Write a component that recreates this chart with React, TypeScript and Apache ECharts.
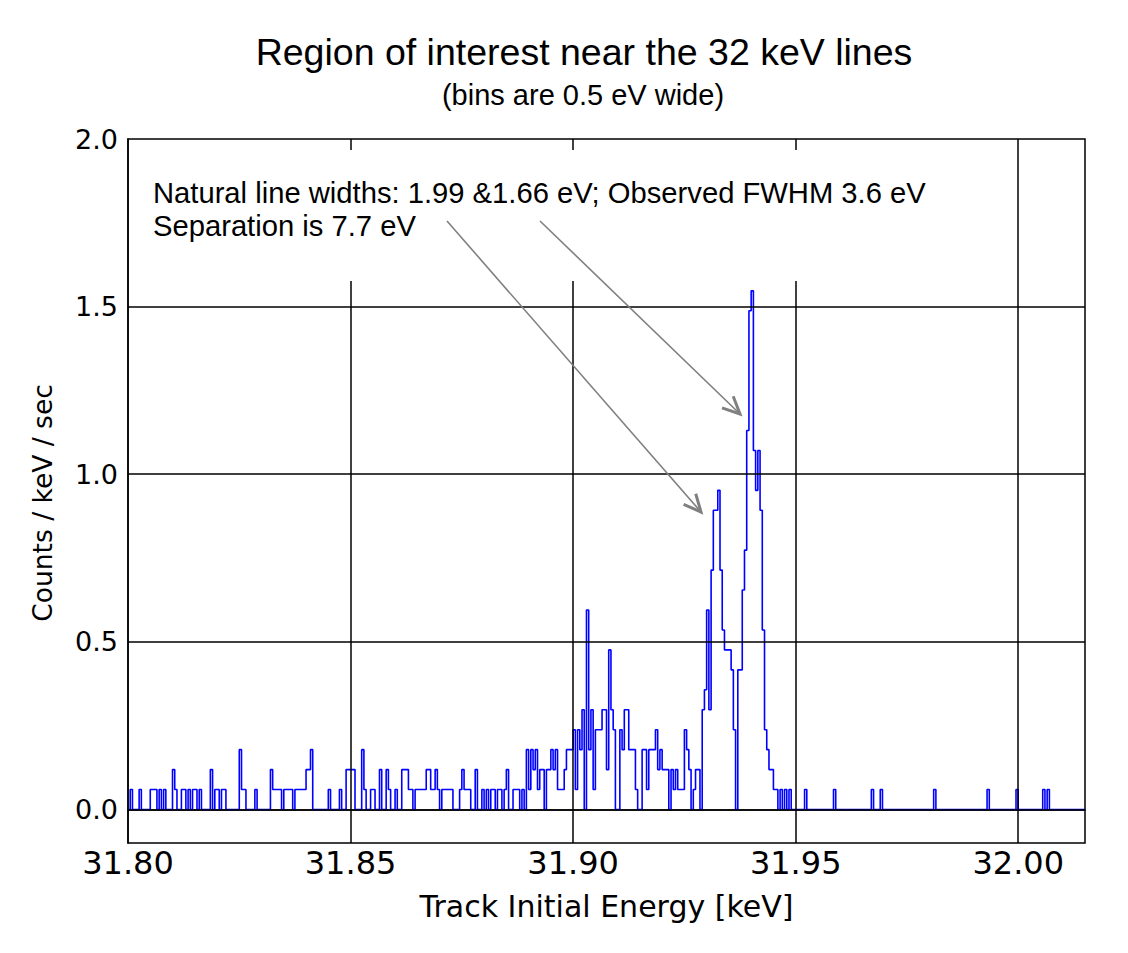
import React, { useEffect, useRef } from "react";
import * as echarts from "echarts";

// ---------- data ----------
const X_MIN = 31.8;
const X_MAX = 32.015;
const Y_MIN = -0.1;
const Y_MAX = 2.0;
const BIN_WIDTH = 0.0005; // keV (0.5 eV)
const RATE_PER_COUNT = 0.0595; // counts / keV / sec for one count in a bin

// counts per 0.5 eV bin, starting at 31.800 keV
const countsA = [
  0, 1, 0, 0, 0, 1, 0, 0, 0, 0, 1, 1, 1, 0, 1, 0, 1, 0, 0, 0,
  2, 1, 0, 0, 1, 1, 0, 1, 0, 1, 1, 0, 1, 0, 0, 0, 0, 2, 0, 1,
  1, 0, 1, 1, 0, 0, 0, 0, 0, 0, 3, 1, 1, 0, 0, 0, 0, 1, 0, 0,
  0, 0, 0, 0, 2, 1, 1, 1, 1, 0, 1, 1,
];
const countsB = [
  1, 1, 0, 1, 1, 1, 1, 1, 2, 2, 3, 0, 0, 0, 0, 0, 0, 0, 1, 0,
  0, 0, 0, 1, 0, 0, 2, 2, 2, 2, 0, 0, 0, 3, 1, 0, 0, 1, 1, 0,
  0, 2, 0, 0, 2, 1, 0, 0, 1, 0, 0, 2, 2, 2, 1, 1, 0, 1, 1, 1,
  1, 1, 2, 2, 1, 1, 2, 1, 0, 1, 1, 1,
];
const countsC = [
  1, 1, 0, 0, 0, 1, 2, 1, 1, 1, 0, 0, 2, 0, 0, 1, 0, 1, 0, 1,
  1, 0, 1, 1, 0, 1, 2, 0, 0, 1, 1, 1, 0, 1, 0, 3, 1, 3, 2, 3,
  1, 2, 2, 0, 2, 2, 3, 2, 3, 1, 1, 1, 2, 3, 3, 3,
];
const countsD = [
  4, 1, 4, 3, 5, 0, 10, 3, 5, 1, 4, 4, 4, 5, 5, 2, 8, 5, 4, 0,
  0, 4, 3, 5, 5, 3, 3, 3, 1, 0, 0, 3, 3, 1, 3, 3, 3, 4, 2, 3,
  2, 2, 2, 0,
];
const countsE = [
  2, 1, 2, 1, 1, 1, 4, 3, 2, 0, 1, 2, 2, 0, 5, 6, 10, 5, 12, 15,
  15, 16, 12, 9, 8, 8, 8, 7, 4, 0, 7, 7, 11, 13, 19, 25, 26, 18, 16, 18,
  15, 9, 4, 3, 2, 2, 1, 1, 0, 1, 0, 1, 0, 1,
];
// sparse tail beyond the peaks: [bin index, counts]
const tailHits = [
  [304, 1], [317, 1], [334, 1], [338, 1], [362, 1], [386, 1], [399, 1], [411, 1], [413, 1],
];
const N_BINS = 430;

const X_TICKS = [31.8, 31.85, 31.9, 31.95, 32.0];
const Y_TICKS = [0, 0.5, 1.0, 1.5, 2.0];
const X_GRID = [31.85, 31.9, 31.95, 32.0];
const Y_GRID = [0, 0.5, 1.0, 1.5];

const TITLE = "Region of interest near the 32 keV lines";
const SUBTITLE = "(bins are 0.5 eV wide)";
const NOTE_1 = "Natural line widths: 1.99 &1.66 eV; Observed FWHM 3.6 eV";
const NOTE_2 = "Separation is 7.7 eV";
const X_NAME = "Track Initial Energy [keV]";
const Y_NAME = "Counts / keV / sec";

// ---------- helpers ----------
function buildCounts(): number[] {
  const dense = [...countsA, ...countsB, ...countsC, ...countsD, ...countsE];
  const all = new Array(N_BINS).fill(0);
  dense.forEach((c, i) => (all[i] = c));
  tailHits.forEach(([k, c]) => (all[k] = c));
  return all;
}

function buildStepData(): number[][] {
  const counts = buildCounts();
  const pts: number[][] = [];
  counts.forEach((c, k) => {
    pts.push([+(X_MIN + k * BIN_WIDTH).toFixed(5), +(c * RATE_PER_COUNT).toFixed(5)]);
  });
  const last = counts[counts.length - 1] * RATE_PER_COUNT;
  pts.push([+(X_MIN + counts.length * BIN_WIDTH).toFixed(5), last]);
  return pts;
}

function arrow(x1: number, y1: number, x2: number, y2: number) {
  const ang = Math.atan2(y2 - y1, x2 - x1) + Math.PI;
  const L = 19;
  const spread = (25 * Math.PI) / 180;
  const w1 = [x2 + L * Math.cos(ang + spread), y2 + L * Math.sin(ang + spread)];
  const w2 = [x2 + L * Math.cos(ang - spread), y2 + L * Math.sin(ang - spread)];
  const color = "#808080";
  return [
    {
      type: "line",
      z: 120,
      shape: { x1, y1, x2, y2 },
      style: { stroke: color, lineWidth: 1.6 },
    },
    {
      type: "polyline",
      z: 121,
      shape: { points: [w1, [x2, y2], w2] },
      style: { stroke: color, lineWidth: 3, fill: null, lineJoin: "miter" },
    },
  ];
}

export default function App() {
  const ref = useRef<HTMLDivElement>(null);

  useEffect(() => {
    if (!ref.current) return;
    const chart = echarts.init(ref.current, undefined, { renderer: "svg" });

    const option: any = {
      animation: false,
      backgroundColor: "#fff",
      grid: {
        left: 128,
        top: 139,
        width: 957,
        height: 704,
        show: true,
        borderColor: "#000",
        borderWidth: 1.5,
        backgroundColor: "transparent",
      },
      xAxis: {
        type: "value",
        min: X_MIN,
        max: X_MAX,
        name: X_NAME,
        nameLocation: "middle",
        nameGap: 48,
        nameTextStyle: { fontFamily: "DejaVu Sans", fontSize: 30, color: "#000" },
        axisLine: { show: true, lineStyle: { color: "#000", width: 1.5 } },
        axisTick: { show: false },
        splitLine: { show: false },
        axisLabel: {
          fontFamily: "DejaVu Sans",
          fontSize: 32,
          color: "#000",
          margin: 4,
          customValues: X_TICKS,
          formatter: (v: number) => v.toFixed(2),
        },
      },
      yAxis: {
        type: "value",
        min: Y_MIN,
        max: Y_MAX,
        name: Y_NAME,
        nameLocation: "middle",
        nameGap: 72,
        nameTextStyle: {
          fontFamily: "DejaVu Sans",
          fontSize: 26.5,
          color: "#000",
          padding: [0, 24, 0, 0],
        },
        axisLine: { show: true, lineStyle: { color: "#000", width: 1.5 } },
        axisTick: { show: false },
        splitLine: { show: false },
        axisLabel: {
          fontFamily: "DejaVu Sans",
          fontSize: 27,
          color: "#000",
          margin: 10,
          customValues: Y_TICKS,
          formatter: (v: number) => v.toFixed(1),
        },
      },
      series: [
        {
          type: "line",
          step: "end",
          data: buildStepData(),
          symbol: "none",
          showSymbol: false,
          lineStyle: { color: "#0000ff", width: 1.6 },
          z: 2,
          markLine: {
            silent: true,
            symbol: ["none", "none"],
            label: { show: false },
            lineStyle: { color: "#000", width: 1.5, type: "solid" },
            emphasis: { disabled: true },
            data: [
              ...Y_GRID.map((v) => ({ yAxis: v })),
              ...X_GRID.map((v) => ({ xAxis: v })),
            ],
          },
        },
      ],
      graphic: [
        {
          type: "text",
          x: 584,
          y: 52,
          z: 130,
          style: {
            text: TITLE,
            fontFamily: "Liberation Sans",
            fontSize: 37.5,
            fill: "#000",
            textAlign: "center",
            textVerticalAlign: "middle",
          },
        },
        {
          type: "text",
          x: 583,
          y: 95,
          z: 130,
          style: {
            text: SUBTITLE,
            fontFamily: "Liberation Sans",
            fontSize: 29,
            fill: "#000",
            textAlign: "center",
            textVerticalAlign: "middle",
          },
        },
        {
          type: "rect",
          z: 100,
          shape: { x: 140, y: 150, width: 800, height: 131 },
          style: { fill: "#fff", stroke: null },
        },
        {
          type: "text",
          x: 153,
          y: 193,
          z: 130,
          style: {
            text: NOTE_1,
            fontFamily: "Liberation Sans",
            fontSize: 29.2,
            fill: "#000",
            textAlign: "left",
            textVerticalAlign: "middle",
          },
        },
        {
          type: "text",
          x: 153,
          y: 226,
          z: 130,
          style: {
            text: NOTE_2,
            fontFamily: "Liberation Sans",
            fontSize: 29.2,
            fill: "#000",
            textAlign: "left",
            textVerticalAlign: "middle",
          },
        },
        ...arrow(447, 221, 701, 512),
        ...arrow(540, 221, 740, 414),
      ],
    };

    chart.setOption(option);
    return () => chart.dispose();
  }, []);

  return (
    <div
      ref={ref}
      style={{ position: "absolute", left: 0, top: 0, width: 1128, height: 953, background: "#fff" }}
    />
  );
}
